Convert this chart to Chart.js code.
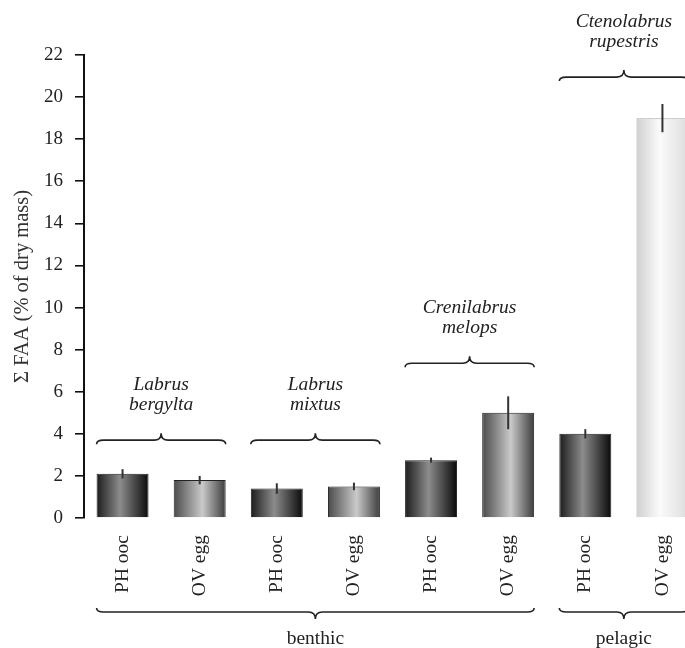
<!DOCTYPE html>
<html>
<head>
<meta charset="utf-8">
<title>FAA content</title>
<script src="https://cdn.jsdelivr.net/npm/chart.js@4.4.1/dist/chart.umd.min.js"></script>
<style>
  html, body { margin: 0; padding: 0; overflow: hidden; background: #fff; }
</style>
</head>
<body>
<canvas id="faaChart" width="705" height="648"></canvas>
<script>
// bar categories (one per bar)
const stages = ["PH ooc", "OV egg", "PH ooc", "OV egg", "PH ooc", "OV egg", "PH ooc", "OV egg"];
// free amino acids, % of dry mass, and their error
const faaMeans = [2.1, 1.8, 1.4, 1.5, 2.75, 5.0, 4.0, 19.0];
const faaErrors = [0.22, 0.2, 0.25, 0.18, 0.12, 0.78, 0.22, 0.67];
const yTicks = [0, 2, 4, 6, 8, 10, 12, 14, 16, 18, 20, 22];

// species groups (bar index pairs) and habitat groups
const species = [["Labrus", "bergylta"], ["Labrus", "mixtus"], ["Crenilabrus", "melops"], ["Ctenolabrus", "rupestris"]];
const speciesBars = [[0, 1], [2, 3], [4, 5], [6, 7]];
const habitats = ["benthic", "pelagic"];
const habitatBars = [[0, 5], [6, 7]];

const serif = '"Liberation Serif", "DejaVu Serif", serif';
const ink = '#222';

// which shading a bar gets
function shadeOf(i) {
  if (stages[i] === 'PH ooc') return 'dark';
  return i >= 6 ? 'light' : 'mid';
}

const shadeStops = {
  dark:  [[0, '#1c1c1c'], [0.45, '#8c8c8c'], [1, '#0a0a0a']],
  mid:   [[0, '#4a4a4a'], [0.55, '#cacaca'], [1, '#3c3c3c']],
  light: [[0, '#cfcfcf'], [0.45, '#fbfbfb'], [1, '#dcdcdc']]
};

// gradient across each bar, built from the x scale
function barFill(ctx) {
  const chart = ctx.chart;
  const xs = chart.scales.x;
  const i = ctx.dataIndex;
  if (!xs || i === undefined) return '#888';
  const cx = xs.getPixelForValue(i);
  const half = xs.width / stages.length * 0.674 / 2;
  if (!isFinite(cx) || !isFinite(half) || half <= 0) return '#888';
  const g = chart.ctx.createLinearGradient(cx - half, 0, cx + half, 0);
  shadeStops[shadeOf(i)].forEach(s => g.addColorStop(s[0], s[1]));
  return g;
}

// draw a curly brace; dir -1 = tip up, +1 = tip down
function brace(c, x1, x2, y, dir) {
  const mid = (x1 + x2) / 2, r = 7, tip = 7, end = 4;
  c.beginPath();
  c.moveTo(x1, y - dir * end);
  c.quadraticCurveTo(x1, y, x1 + r, y);
  c.lineTo(mid - r, y);
  c.quadraticCurveTo(mid, y, mid, y + dir * tip);
  c.quadraticCurveTo(mid, y, mid + r, y);
  c.lineTo(x2 - r, y);
  c.quadraticCurveTo(x2, y, x2, y - dir * end);
  c.stroke();
}

// error bars, species braces and habitat braces
const annotate = {
  id: 'annotate',
  afterDatasetsDraw(chart) {
    const c = chart.ctx;
    const ys = chart.scales.y;
    const bars = chart.getDatasetMeta(0).data;
    const area = chart.chartArea;
    c.save();

    // error bars
    c.strokeStyle = '#333';
    c.lineWidth = 2;
    bars.forEach((b, i) => {
      c.beginPath();
      c.moveTo(b.x, ys.getPixelForValue(faaMeans[i] + faaErrors[i]));
      c.lineTo(b.x, ys.getPixelForValue(faaMeans[i] - faaErrors[i]));
      c.stroke();
    });

    // species braces above the bars
    const braceLevel = [3.7, 3.7, 7.35, 20.95];
    c.strokeStyle = ink;
    c.lineWidth = 1.6;
    c.fillStyle = ink;
    c.textAlign = 'center';
    c.textBaseline = 'middle';
    c.font = 'italic 19.5px ' + serif;
    speciesBars.forEach((pair, k) => {
      const a = bars[pair[0]], b = bars[pair[1]];
      const x1 = a.x - a.width / 2, x2 = b.x + b.width / 2;
      const y = ys.getPixelForValue(braceLevel[k]);
      brace(c, x1, x2, y, -1);
      const mx = (x1 + x2) / 2;
      c.fillText(species[k][0], mx, y - 55);
      c.fillText(species[k][1], mx, y - 35);
    });

    // habitat braces under the labels
    c.font = '19.5px ' + serif;
    habitatBars.forEach((range, k) => {
      const a = bars[range[0]], b = bars[range[1]];
      const x1 = a.x - a.width / 2, x2 = b.x + b.width / 2;
      const y = area.bottom + 94;
      brace(c, x1, x2, y, 1);
      c.fillText(habitats[k], (x1 + x2) / 2, y + 27);
    });

    c.restore();
  }
};

const ctx = document.getElementById('faaChart').getContext('2d');
const chart = new Chart(ctx, {
  type: 'bar',
  data: {
    labels: stages,
    datasets: [{
      data: faaMeans,
      backgroundColor: barFill,
      borderColor: c => shadeOf(c.dataIndex) === 'light' ? '#a8a8a8' : '#222',
      borderWidth: 1,
      barPercentage: 0.674,
      categoryPercentage: 1
    }]
  },
  options: {
    responsive: false,
    animation: false,
    layout: { padding: { top: 55, right: 4, left: 0, bottom: 0 } },
    plugins: {
      legend: { display: false },
      tooltip: { enabled: false }
    },
    scales: {
      x: {
        grid: { display: false, drawTicks: false },
        border: { display: false },
        ticks: {
          minRotation: 90,
          maxRotation: 90,
          padding: 17,
          color: ink,
          font: { family: serif, size: 19.5 }
        },
        afterFit: s => { s.height = 130; }
      },
      y: {
        min: 0,
        max: 22,
        grid: { drawOnChartArea: false, color: '#111', lineWidth: 1.6, tickLength: 9 },
        border: { display: true, color: '#111', width: 2 },
        ticks: {
          stepSize: 2,
          padding: 12,
          color: ink,
          font: { family: serif, size: 19 },
          callback: v => yTicks.includes(v) ? String(v) : ''
        },
        title: {
          display: true,
          text: 'Σ FAA (% of dry mass)',
          color: '#333',
          font: { family: serif, size: 20.5 },
          padding: { top: 10, bottom: 0 }
        },
        afterFit: s => { s.width = 84; }
      }
    }
  },
  plugins: [annotate]
});
</script>
</body>
</html>
